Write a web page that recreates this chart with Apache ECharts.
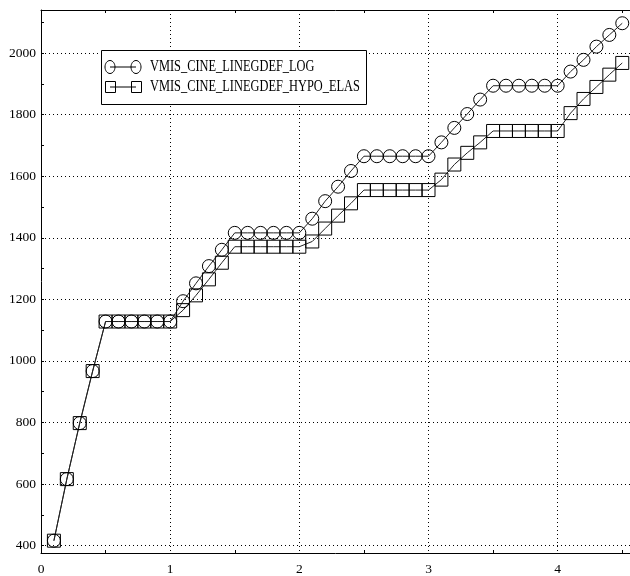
<!DOCTYPE html>
<html>
<head>
<meta charset="utf-8">
<script src="https://cdn.jsdelivr.net/npm/echarts@6/dist/echarts.min.js"></script>
<style>html,body{margin:0;padding:0;background:#fff}#c{width:630px;height:576px}</style>
</head>
<body>
<div id="c"></div>
<script>
const seriesNames = ['VMIS_CINE_LINEGDEF_LOG', 'VMIS_CINE_LINEGDEF_HYPO_ELAS'];
const xValues = [0.1,0.2,0.3,0.4,0.5,0.6,0.7,0.8,0.9,1.0,
  1.1,1.2,1.3,1.4,1.5,1.6,1.7,1.8,1.9,2.0,
  2.1,2.2,2.3,2.4,2.5,2.6,2.7,2.8,2.9,3.0,
  3.1,3.2,3.3,3.4,3.5,3.6,3.7,3.8,3.9,4.0,
  4.1,4.2,4.3,4.4,4.5];
const logValues = [416,616,798,967,1128,1128,1128,1128,1128,1128,
  1194,1252,1308,1361,1416,1416,1416,1416,1416,1416,
  1462,1519,1566,1617,1665,1665,1665,1665,1665,1665,
  1710,1757,1802,1849,1894,1894,1894,1894,1894,1894,
  1940,1978,2021,2059,2097];
const hypoValues = [416,616,798,967,1128,1128,1128,1128,1128,1128,
  1165,1213,1265,1319,1371,1371,1371,1371,1371,1371,
  1388,1430,1472,1512,1555,1555,1555,1555,1555,1555,
  1589,1638,1676,1710,1747,1747,1747,1747,1747,1747,
  1805,1851,1890,1930,1968];
const yLabelTicks = [400,600,800,1000,1200,1400,1600,1800,2000];
const yMinorTicks = [400,500,600,700,800,900,1000,1100,1200,1300,1400,1500,1600,1700,1800,1900,2000,2100];
const X_MIN = 0, X_MAX = 4.56, X_INTERVAL = 1, Y_MIN = 376, Y_MAX = 2140;

const FONT = 'Liberation Serif';
const chart = echarts.init(document.getElementById('c'), null, {renderer: 'canvas'});

const axisLineStyle = {show: true, onZero: false, lineStyle: {color: '#000', width: 1}};
const dotted = {show: true, lineStyle: {color: '#000', type: [1, 3], width: 1}};

function pairs(vals) { return xValues.map((x, i) => [x, vals[i]]); }

const legendFont = '12.4px "Liberation Serif"';

const option = {
  backgroundColor: '#fff',
  animation: false,
  grid: {left: 41, right: 0, top: 10, bottom: 22, containLabel: false},
  xAxis: [
    {type: 'value', position: 'bottom', min: X_MIN, max: X_MAX, interval: X_INTERVAL,
      axisLine: axisLineStyle,
      axisTick: {show: false, inside: true},
      minorTick: {show: true, splitNumber: 2, length: 3, lineStyle: {color: '#000'}},
      axisLabel: {color: '#000', fontFamily: FONT, fontSize: 13.5, margin: 9, showMaxLabel: false,
        formatter: v => (Math.abs(v - Math.round(v)) < 1e-9 ? String(Math.round(v)) : '')},
      splitLine: dotted},
    {type: 'value', position: 'top', min: X_MIN, max: X_MAX, interval: X_INTERVAL,
      axisLine: axisLineStyle,
      axisTick: {show: false, inside: true},
      minorTick: {show: true, splitNumber: 2, length: 3, lineStyle: {color: '#000'}},
      axisLabel: {show: false},
      splitLine: {show: false}}
  ],
  yAxis: [
    {type: 'value', position: 'left', min: Y_MIN, max: Y_MAX,
      axisLine: axisLineStyle,
      axisTick: {show: true, inside: true, length: 3, customValues: yMinorTicks, lineStyle: {color: '#000'}},
      axisLabel: {customValues: yLabelTicks, color: '#000', fontFamily: FONT, fontSize: 13.5, margin: 5,
        formatter: v => String(v)},
      splitLine: {show: false}},
    {type: 'value', position: 'left', min: Y_MIN, max: Y_MAX,
      axisLine: {show: false},
      axisTick: {show: false, customValues: yLabelTicks},
      axisLabel: {show: false},
      splitLine: dotted}
  ],
  series: [
    {name: seriesNames[0], type: 'line', xAxisIndex: 0, yAxisIndex: 0,
      data: pairs(logValues), symbol: 'circle', symbolSize: 13,
      itemStyle: {color: 'rgba(255,255,255,0)', borderColor: '#000', borderWidth: 1},
      lineStyle: {color: '#222', width: 1}, z: 3},
    {name: seriesNames[1], type: 'line', xAxisIndex: 0, yAxisIndex: 0,
      data: pairs(hypoValues), symbol: 'rect', symbolSize: 13,
      itemStyle: {color: 'rgba(255,255,255,0)', borderColor: '#000', borderWidth: 1},
      lineStyle: {color: '#222', width: 1}, z: 3}
  ],
  graphic: [
    {type: 'rect', z: 10, shape: {x: 101.5, y: 50.5, width: 265, height: 54},
      style: {fill: '#fff', stroke: '#000', lineWidth: 1}},
    {type: 'line', z: 11, shape: {x1: 110, y1: 67, x2: 136, y2: 67}, style: {stroke: '#000', lineWidth: 1}},
    {type: 'ellipse', z: 11, shape: {cx: 110, cy: 67, rx: 5, ry: 6.5}, style: {fill: 'none', stroke: '#000', lineWidth: 1}},
    {type: 'ellipse', z: 11, shape: {cx: 136, cy: 67, rx: 5, ry: 6.5}, style: {fill: 'none', stroke: '#000', lineWidth: 1}},
    {type: 'text', z: 11, x: 150, y: 67, scaleY: 1.3, style: {text: seriesNames[0], fill: '#000', font: legendFont, verticalAlign: 'middle'}},
    {type: 'line', z: 11, shape: {x1: 110, y1: 87, x2: 136, y2: 87}, style: {stroke: '#000', lineWidth: 1}},
    {type: 'rect', z: 11, shape: {x: 105.5, y: 81.5, width: 10, height: 11}, style: {fill: 'none', stroke: '#000', lineWidth: 1}},
    {type: 'rect', z: 11, shape: {x: 131.5, y: 81.5, width: 10, height: 11}, style: {fill: 'none', stroke: '#000', lineWidth: 1}},
    {type: 'text', z: 11, x: 150, y: 87, scaleY: 1.3, style: {text: seriesNames[1], fill: '#000', font: legendFont, verticalAlign: 'middle'}}
  ]
};
chart.setOption(option);
</script>
</body>
</html>
